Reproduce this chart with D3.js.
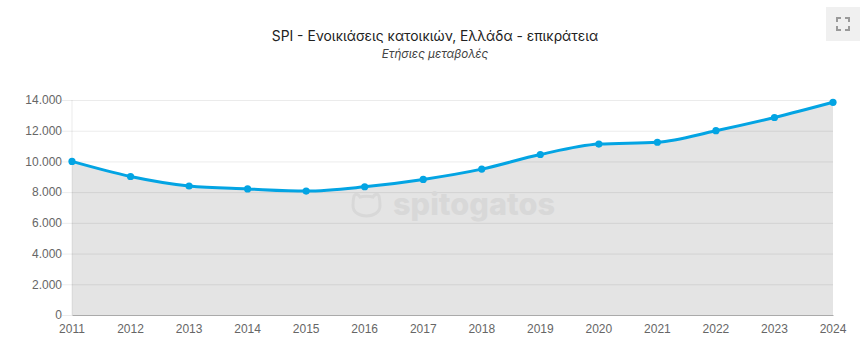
<!DOCTYPE html>
<html>
<head>
<meta charset="utf-8">
<script src="https://cdn.jsdelivr.net/npm/d3@7"></script>
<style>
  html, body { margin: 0; padding: 0; background: #fff; }
  svg { display: block; }
  text { font-family: "Liberation Sans", Arial, sans-serif; }
</style>
</head>
<body>
<div id="chart"></div>
<script>
var years = [2011, 2012, 2013, 2014, 2015, 2016, 2017, 2018, 2019, 2020, 2021, 2022, 2023, 2024];
var values = [10000, 9020, 8400, 8210, 8070, 8350, 8830, 9500, 10450, 11130, 11250, 12000, 12860, 13850];
var yTicks = [0, 2000, 4000, 6000, 8000, 10000, 12000, 14000];
var chartTitle = "SPI - Ενοικιάσεις κατοικιών, Ελλάδα - επικράτεια";
var chartSubtitle = "Ετήσιες μεταβολές";

var w = 867, h = 353;
var margin = {top: 100, right: 34, bottom: 38, left: 72};
var width = w - margin.left - margin.right,
    height = h - margin.top - margin.bottom;

var svg = d3.select("#chart").append("svg").attr("width", w).attr("height", h);

svg.append("text")
    .attr("x", 435).attr("y", 41)
    .attr("text-anchor", "middle")
    .attr("font-size", 13.85)
    .style("font-family", "Inter, 'Noto Sans', sans-serif")
    .attr("fill", "#222")
    .text(chartTitle);

svg.append("text")
    .attr("x", 435).attr("y", 58)
    .attr("text-anchor", "middle")
    .attr("font-size", 11.7)
    .attr("font-style", "italic")
    .style("font-family", "Inter, 'Noto Sans', sans-serif")
    .attr("fill", "#444")
    .text(chartSubtitle);

// fullscreen button
var btn = svg.append("g").attr("transform", "translate(826,7)");
btn.append("rect").attr("width", 34).attr("height", 34).attr("fill", "#f0f0f0");
btn.append("path")
    .attr("d", "M11 15V11H15M19 11H23V15M23 19V23H19M15 23H11V19")
    .attr("fill", "none")
    .attr("stroke", "#9a9a9a")
    .attr("stroke-width", 2);

var g = svg.append("g").attr("transform", "translate(" + margin.left + "," + margin.top + ")");

var x = d3.scalePoint().domain(years).range([0, width]);
var y = d3.scaleLinear().domain([0, 14000]).range([height, 0]);

var area = d3.area()
    .x(function(d, i) { return x(years[i]); })
    .y0(height)
    .y1(function(d) { return y(d); })
    .curve(d3.curveMonotoneX);

var line = d3.line()
    .x(function(d, i) { return x(years[i]); })
    .y(function(d) { return y(d); })
    .curve(d3.curveMonotoneX);

g.append("path").datum(values).attr("fill", "#e4e4e4").attr("d", area);

// grid sits above the area fill
var grid = g.append("g")
    .call(d3.axisLeft(y).tickValues(yTicks).tickSize(-width).tickFormat(""));
grid.select(".domain").remove();
grid.selectAll("line").attr("stroke", "#000").attr("stroke-opacity", 0.08);

g.append("line")
    .attr("x1", 0).attr("x2", 0).attr("y1", 0).attr("y2", height)
    .attr("stroke", "#000").attr("stroke-opacity", 0.08);

// watermark
var mark = g.append("g").attr("transform", "translate(279,92)");
mark.append("path")
    .attr("d", "M3 4C5 1 7 2 9 5C12 4 19 4 22 5C24 2 26 1 28 4C29 8 29 11 29 14C29 20 23 24 15.5 24C8 24 2 20 2 14C2 11 2 8 3 4Z")
    .attr("fill", "none")
    .attr("stroke", "#d8d8d8")
    .attr("stroke-width", 3);
mark.append("text")
    .attr("x", 42).attr("y", 23)
    .attr("font-size", 30)
    .attr("font-weight", 800)
    .attr("textLength", 162)
    .attr("lengthAdjust", "spacingAndGlyphs")
    .style("font-family", "Inter, 'Noto Sans', sans-serif")
    .attr("fill", "#d8d8d8")
    .text("spitogatos");

var xAxis = g.append("g")
    .attr("transform", "translate(0," + height + ")")
    .call(d3.axisBottom(x).tickSize(0).tickPadding(9).tickFormat(d3.format("d")));
xAxis.select(".domain").attr("stroke", "#aaa");
xAxis.selectAll("text").attr("font-size", 12).attr("fill", "#666").attr("dx", -0.5);

var yAxis = g.append("g")
    .call(d3.axisLeft(y).tickValues(yTicks).tickSize(10).tickPadding(0)
      .tickFormat(function(d) { return d3.format(",")(d).replace(",", "."); }));
yAxis.select(".domain").remove();
yAxis.selectAll("line").attr("stroke", "#000").attr("stroke-opacity", 0.08);
yAxis.selectAll("text").attr("font-size", 12).attr("fill", "#666");

g.append("path")
    .datum(values)
    .attr("fill", "none")
    .attr("stroke", "#03a4e3")
    .attr("stroke-width", 3)
    .attr("stroke-linejoin", "round")
    .attr("d", line);

g.selectAll("circle")
    .data(values)
    .enter().append("circle")
    .attr("cx", function(d, i) { return x(years[i]); })
    .attr("cy", function(d) { return y(d); })
    .attr("r", 3.6)
    .attr("fill", "#03a4e3");
</script>
</body>
</html>
